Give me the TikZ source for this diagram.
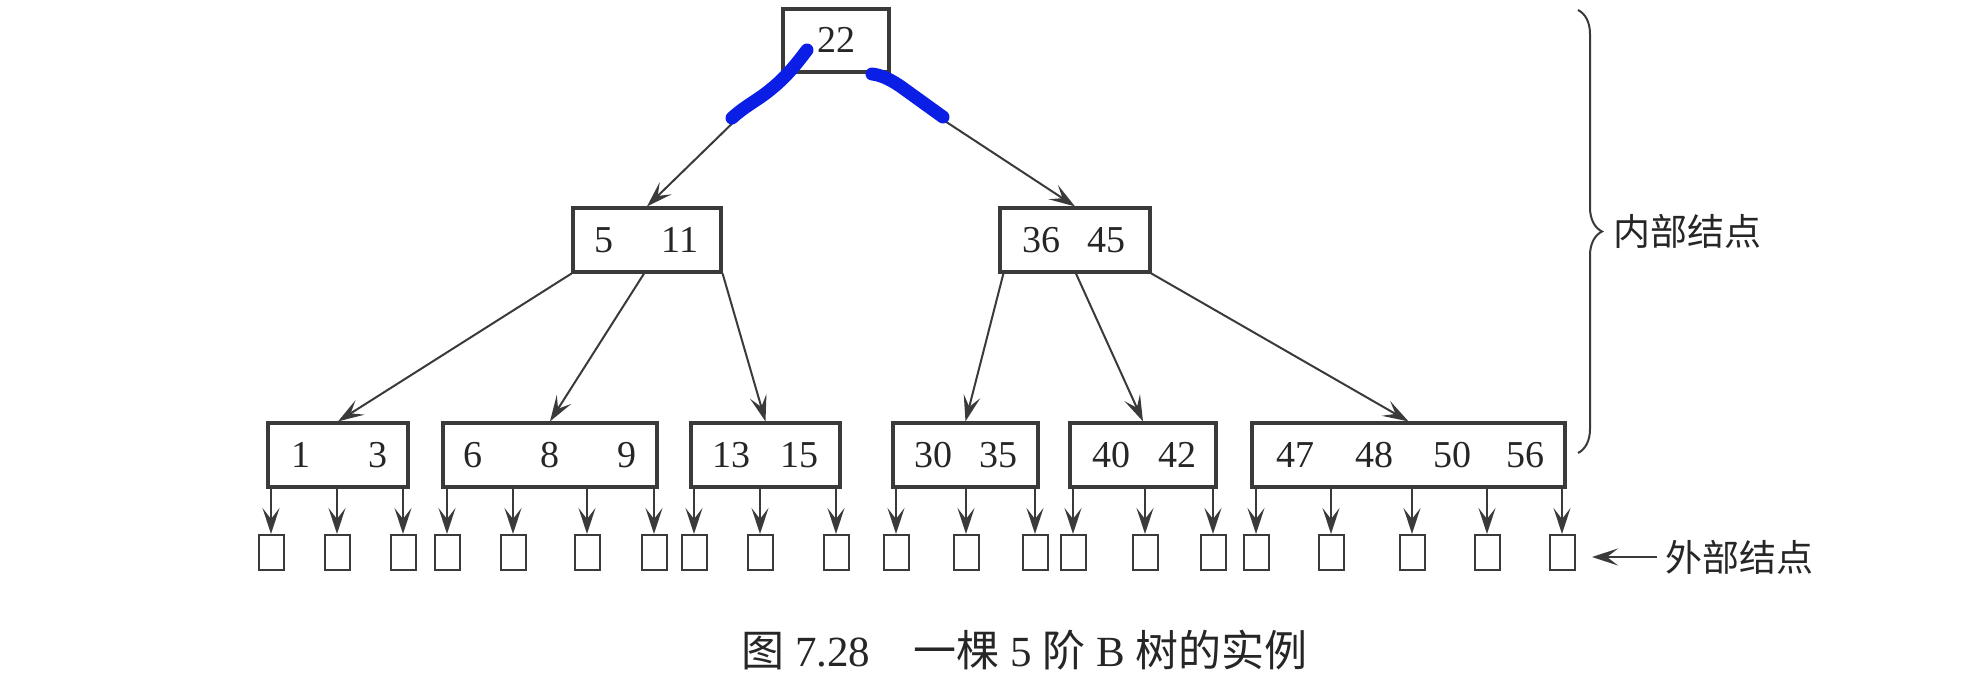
\documentclass[tikz,border=0pt]{standalone}
\usepackage{fontspec}
\setmainfont{Liberation Serif}
\newfontfamily\cjk{Noto Sans CJK SC}
\usetikzlibrary{arrows.meta,calc,decorations.pathreplacing}
\definecolor{inkc}{HTML}{3A3A3A}
\definecolor{txtc}{HTML}{262626}
\definecolor{hlblue}{HTML}{0A1EE6}
\begin{document}
\begin{tikzpicture}[x=0.5pt,y=-0.5pt,
  keybox/.style={draw=inkc, line width=1.6pt, minimum height=32pt, inner sep=0pt},
  key/.style={font=\fontsize{19}{19}\selectfont, text=txtc, inner sep=0pt},
  ext/.style={draw=inkc, line width=1pt, minimum width=12.5pt, minimum height=17.5pt, inner sep=0pt},
  edge/.style={draw=inkc, line width=1pt, -{Stealth[length=13pt,width=8.5pt,inset=5.5pt]}},
  lbl/.style={font=\cjk\fontsize{18.5}{18.5}\selectfont, text=txtc, inner sep=0pt, anchor=west},
  hl/.style={draw=hlblue, line width=6.5pt, line cap=round, line join=round}
]
\useasboundingbox (0,0) rectangle (1983,679);

% internal nodes
\node[keybox, minimum width=53pt, minimum height=31.5pt] (root) at (836,40.5) {};
\node[key] (k22) at (836,40) {22};

\node[keybox, minimum width=74pt] (ml) at (647,240) {};
\node[key] (k5) at (604,240) {5};
\node[key] (k11) at (680,240) {11};

\node[keybox, minimum width=75pt] (mr) at (1075,240) {};
\node[key] (k36) at (1041,240) {36};
\node[key] (k45) at (1106,240) {45};

% leaves
\node[keybox, minimum width=70pt] (l1) at (338,455) {};
\node[key] at (301,455) {1};
\node[key] at (378,455) {3};

\node[keybox, minimum width=107pt] (l2) at (550,455) {};
\node[key] at (473,455) {6};
\node[key] at (550,455) {8};
\node[key] at (627,455) {9};

\node[keybox, minimum width=74.5pt] (l3) at (765.5,455) {};
\node[key] at (731,455) {13};
\node[key] at (799,455) {15};

\node[keybox, minimum width=72.5pt] (l4) at (965.5,455) {};
\node[key] at (933,455) {30};
\node[key] at (998,455) {35};

\node[keybox, minimum width=73pt] (l5) at (1143,455) {};
\node[key] at (1111,455) {40};
\node[key] at (1177,455) {42};

\node[keybox, minimum width=156.5pt] (l6) at (1408.5,455) {};
\node[key] at (1295,455) {47};
\node[key] at (1374,455) {48};
\node[key] at (1452,455) {50};
\node[key] at (1525,455) {56};

% tree edges
\draw[edge] ($(root.south west)+(2,0)$) -- (ml.north);
\draw[edge] ($(root.south east)+(-18,0)$) -- (mr.north);
\draw[edge] (ml.south west) -- (l1.north);
\draw[edge] ($(ml.south)+(-3,0)$) -- (l2.north);
\draw[edge] (ml.south east) -- (l3.north);
\draw[edge] ($(mr.south west)+(5,0)$) -- (l4.north);
\draw[edge] ($(mr.south)+(1,0)$) -- (l5.north);
\draw[edge] (mr.south east) -- (l6.north);

% external nodes
\foreach \i/\x/\p in {1/271/l1, 2/337/l1, 3/403/l1,
                      4/447/l2, 5/513/l2, 6/587/l2, 7/654/l2,
                      8/694/l3, 9/760/l3, 10/836/l3,
                      11/896/l4, 12/966/l4, 13/1035/l4,
                      14/1073/l5, 15/1145/l5, 16/1213/l5,
                      17/1256/l6, 18/1331/l6, 19/1412/l6, 20/1487/l6, 21/1562/l6} {
  \node[ext] (e\i) at (\x,552.5) {};
  \draw[edge] (e\i.north |- \p.south) -- (e\i.north);
}

% brace and labels
\draw[draw=inkc, line width=1pt, decorate, decoration={brace, amplitude=12pt}] (1578,10) -- (1578,453);
\node[lbl] (inner) at (1613,231) {内部结点};

\node[lbl] (outer) at (1665,557) {外部结点};
\coordinate (otip) at (1592,557);
\draw[edge] ([xshift=-4pt]outer.west) -- (otip);

% caption
\node[anchor=west, font=\fontsize{21.5}{21.5}\selectfont, text=txtc, inner sep=0pt] (cap) at (741,650)
  {{\cjk 图} 7.28\quad{\cjk 一棵} 5 {\cjk 阶} B {\cjk 树的实例}};

% blue highlight strokes
\draw[hl] (807,50) .. controls (795,66) and (785,78) .. (770,90) .. controls (758,100) and (745,106) .. (732,118);
\draw[hl] (872,74) .. controls (880,75) and (888,78) .. (900,86) -- (943,117);
\end{tikzpicture}
\end{document}
